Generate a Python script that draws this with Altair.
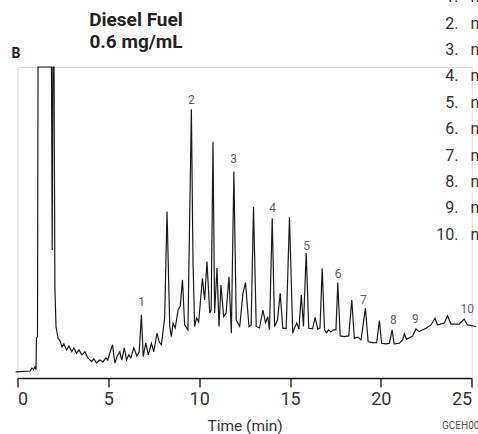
import altair as alt
import pandas as pd

# Chromatogram trace: time (min) and detector response (arbitrary units)
time_min = [
    -0.10, 0.69, 0.80, 0.88, 0.96, 1.02, 1.04, 1.10, 1.13, 1.87, 1.91, 1.95, 2.01, 2.06, 2.12,
    2.23, 2.34, 2.45, 2.55, 2.70, 2.83, 2.99, 3.10, 3.25, 3.38, 3.54, 3.71, 3.87, 4.08, 4.20,
    4.35, 4.53, 4.70, 4.86, 4.97, 5.08, 5.23, 5.36, 5.49, 5.63, 5.74, 5.88, 6.00, 6.13, 6.24,
    6.40, 6.57, 6.70, 6.82, 6.92, 7.06, 7.20, 7.37, 7.50, 7.68, 7.80, 7.92, 8.10, 8.23, 8.38,
    8.47, 8.56, 8.68, 8.84, 8.96, 9.08, 9.20, 9.38, 9.57, 9.66, 9.75, 9.86, 9.97, 10.18, 10.30,
    10.43, 10.58, 10.66, 10.76, 10.85, 10.98, 11.09, 11.20, 11.35, 11.48, 11.64, 11.77, 11.91, 12.04, 12.23,
    12.41, 12.55, 12.74, 12.86, 12.99, 13.14, 13.32, 13.51, 13.65, 13.78, 13.87, 14.02, 14.15, 14.31, 14.46,
    14.60, 14.79, 14.97, 15.15, 15.25, 15.37, 15.49, 15.62, 15.74, 15.89, 16.03, 16.24, 16.38, 16.53, 16.65,
    16.77, 16.90, 17.01, 17.12, 17.25, 17.39, 17.53, 17.63, 17.76, 17.99, 18.23, 18.40, 18.54, 18.73, 18.91,
    19.15, 19.30, 19.55, 19.77, 19.92, 20.04, 20.29, 20.47, 20.62, 20.73, 21.02, 21.20, 21.29, 21.42, 21.75,
    21.93, 22.12, 22.48, 22.76, 22.98, 23.12, 23.49, 23.67, 23.86, 24.31, 24.59, 24.77, 25.23,
]
response = [
    0.0, 0.3, 1.3, 0.7, 1.6, 0.7, 11.1, 11.5, 100.0, 100.0, 40.0, 100.0, 100.0, 26.9, 14.8,
    11.1, 10.2, 8.2, 9.2, 7.2, 8.5, 6.6, 7.9, 6.1, 7.2, 5.6, 6.6, 4.6, 3.4, 4.3,
    2.9, 3.9, 3.3, 4.6, 3.9, 6.2, 8.9, 2.9, 5.2, 6.6, 3.9, 7.9, 3.9, 5.6, 4.6,
    7.9, 5.2, 6.6, 18.7, 5.0, 9.5, 5.6, 9.4, 6.6, 12.7, 9.8, 8.9, 17.7, 52.6, 14.9,
    11.6, 16.0, 14.4, 20.3, 21.6, 30.2, 15.4, 13.8, 86.1, 36.2, 14.9, 17.7, 16.4, 30.7, 23.6,
    36.2, 19.3, 20.3, 75.5, 19.3, 34.1, 14.9, 28.5, 18.1, 19.3, 31.2, 12.7, 65.7, 17.0, 14.9,
    25.8, 29.3, 14.9, 15.4, 54.2, 14.9, 14.4, 20.3, 16.1, 18.1, 13.8, 50.4, 14.9, 17.0, 25.8,
    14.3, 14.3, 50.7, 12.7, 14.4, 16.0, 14.1, 25.2, 14.9, 39.1, 14.3, 14.1, 17.9, 14.0, 14.4,
    34.0, 13.8, 12.8, 13.8, 13.1, 13.8, 13.8, 29.3, 11.8, 11.6, 11.8, 23.6, 11.0, 11.4, 10.5,
    20.9, 9.9, 9.6, 9.6, 16.8, 9.4, 9.2, 9.4, 13.8, 9.2, 9.4, 10.5, 12.5, 10.7, 11.8,
    14.1, 13.2, 14.3, 15.4, 17.6, 15.4, 16.0, 18.4, 15.7, 15.7, 17.3, 15.4, 14.9,
]

# Peak numbers and where their labels sit (time, response)
peak_ids = ["1", "2", "3", "4", "5", "6", "7", "8", "9", "10"]
peak_label_t = [6.83, 9.57, 11.90, 14.04, 15.91, 17.65, 19.04, 20.69, 21.90, 24.75]
peak_label_v = [23.0, 89.2, 69.9, 53.9, 41.3, 32.1, 23.6, 17.0, 17.4, 20.7]

# Peak identification list (only the start is visible in the reference)
legend_nums = ["1.", "2.", "3.", "4.", "5.", "6.", "7.", "8.", "9.", "10."]
legend_names = ["n-C10", "n-C12", "n-C14", "n-C16", "n-C18", "n-C20", "n-C22", "n-C24", "n-C26", "n-C28"]

x_ticks = [0, 5, 10, 15, 20, 25]

FONT = "Roboto, Liberation Sans, sans-serif"

trace = pd.DataFrame({"t": time_min, "v": response})
labels = pd.DataFrame({"t": peak_label_t, "v": peak_label_v, "id": peak_ids})
legend = pd.DataFrame({"num": legend_nums, "name": legend_names, "row": list(range(10))})

x_scale = alt.Scale(domain=[0, 25], nice=False, zero=False)
y_scale = alt.Scale(domain=[-2, 100], nice=False, zero=False)
row_scale = alt.Scale(domain=[0, 9], range=[-69.9, 167.7])

line = alt.Chart(trace).mark_line(color="#1a1a1a", strokeWidth=1.2, interpolate="linear").encode(
    x=alt.X("t:Q", scale=x_scale, title="Time (min)",
            axis=alt.Axis(values=x_ticks, format="d", grid=False, domainColor="#111",
                          domainWidth=1.3, tickColor="#111", tickWidth=1.3, tickSize=9,
                          labelFont=FONT, labelFontSize=18, labelColor="#333",
                          labelPadding=3, titleFont=FONT, titleFontSize=15.5,
                          titleFontWeight="normal", titleColor="#333", titlePadding=10)),
    y=alt.Y("v:Q", scale=y_scale, axis=None),
)

peak_text = alt.Chart(labels).mark_text(font=FONT, fontSize=12, color="#666", baseline="middle").encode(
    x=alt.X("t:Q", scale=x_scale),
    y=alt.Y("v:Q", scale=y_scale, axis=None),
    text="id:N",
)

legend_num = alt.Chart(legend).mark_text(font=FONT, fontSize=16, color="#333", align="right",
                                         baseline="middle").encode(
    x=alt.value(441),
    y=alt.Y("row:Q", scale=row_scale, axis=None),
    text="num:N",
)
legend_name = alt.Chart(legend).mark_text(font=FONT, fontSize=16, color="#333", align="left",
                                          baseline="middle").encode(
    x=alt.value(453),
    y=alt.Y("row:Q", scale=row_scale, axis=None),
    text="name:N",
)

title1 = alt.Chart(pd.DataFrame({"s": ["Diesel Fuel"]})).mark_text(
    font=FONT, fontSize=19, fontWeight="bold", color="#222", align="center", baseline="alphabetic"
).encode(x=alt.value(118.5), y=alt.value(-41), text="s:N")
title2 = alt.Chart(pd.DataFrame({"s": ["0.6 mg/mL"]})).mark_text(
    font=FONT, fontSize=19, fontWeight="bold", color="#222", align="center", baseline="alphabetic"
).encode(x=alt.value(118.5), y=alt.value(-19), text="s:N")
panel = alt.Chart(pd.DataFrame({"s": ["B"]})).mark_text(
    font=FONT, fontSize=14, fontWeight="bold", color="#222", align="center", baseline="alphabetic"
).encode(x=alt.value(-1.5), y=alt.value(-9), text="s:N")
code = alt.Chart(pd.DataFrame({"s": ["GCEH004"]})).mark_text(
    font=FONT, fontSize=10, color="#555", align="left", baseline="middle"
).encode(x=alt.value(424.5), y=alt.value(359), text="s:N")

chart = alt.layer(line, peak_text, legend_num, legend_name, title1, title2, panel, code).resolve_scale(
    y="independent"
).properties(
    width=454.2,
    height=311,
    autosize=alt.AutoSizeParams(type="none"),
    padding={"left": 17.5, "top": 67, "right": 6.3, "bottom": 56},
).configure_view(stroke=None).configure(background="white")

chart.save("out.html", embed_options={"renderer": "svg", "actions": False})
